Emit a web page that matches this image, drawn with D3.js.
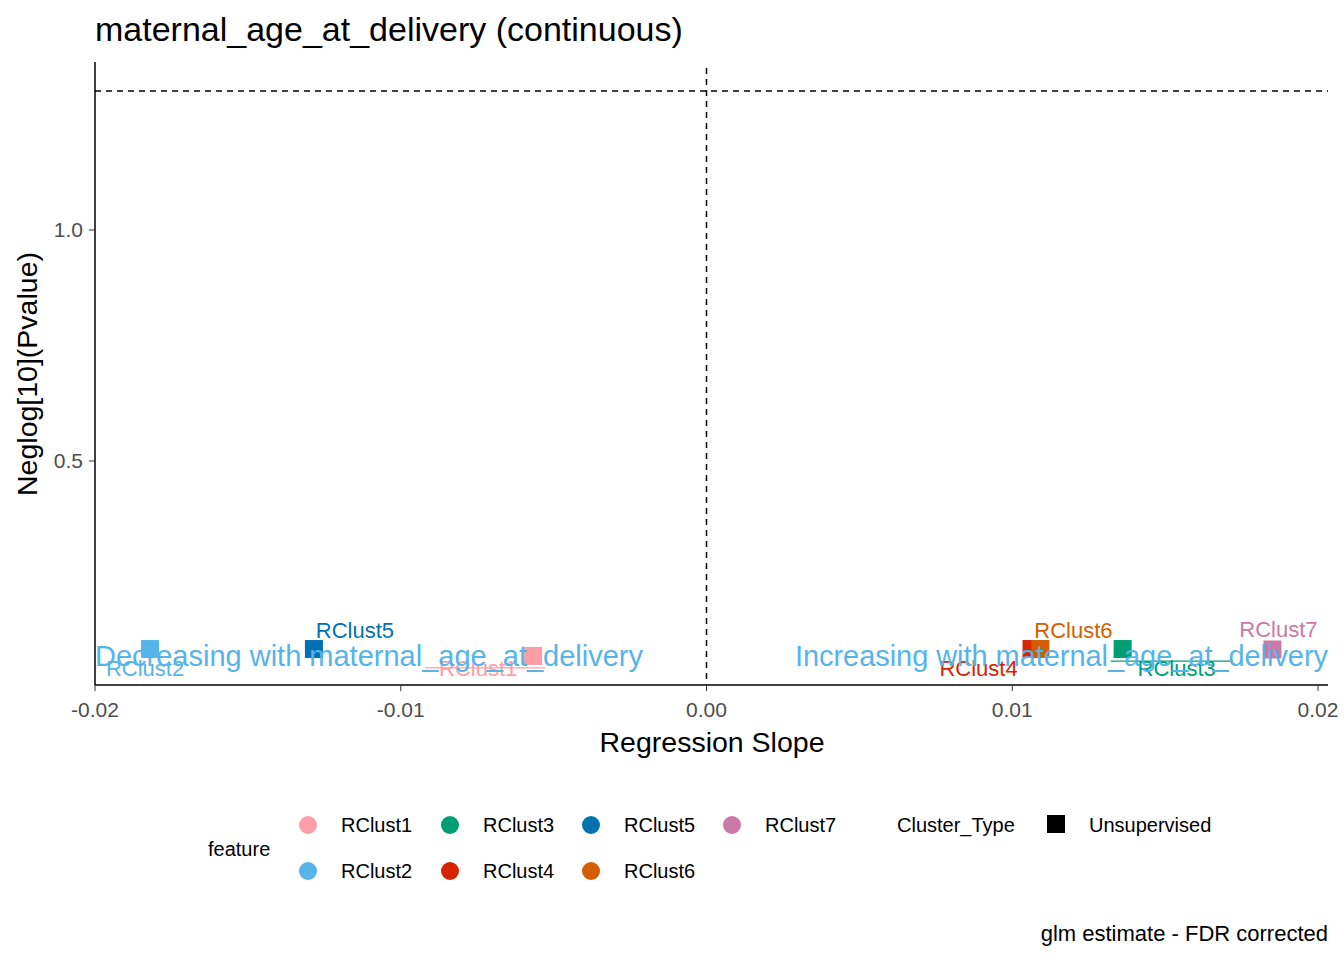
<!DOCTYPE html>
<html><head><meta charset="utf-8">
<script src="https://cdn.jsdelivr.net/npm/d3@7"></script>
<style>body{margin:0;background:#fff}text{font-family:Arial,"Liberation Sans",sans-serif}</style>
</head><body><svg id="c" width="1344" height="960"></svg>
<script>
const features = ["RClust1","RClust2","RClust3","RClust4","RClust5","RClust6","RClust7"];
const slopes = [-0.00567,-0.0182,0.01361,0.01063,-0.01284,0.01092,0.01851];
const negLogP = [0.078,0.093,0.093,0.093,0.093,0.093,0.092];
const colors = ["#FF9DA7","#56B4E9","#009E73","#D62300","#0072B2","#D55E00","#CC79A7"];
const xTicks = [-0.02,-0.01,0,0.01,0.02];
const yTicks = [0.5,1.0];
const labelOff = [[-55,13],[-5,20],[54,20],[-53,20],[41,-18],[33,-18],[6,-19]];
const segs = {0:[-108,12],2:[-12,110]};

const svg = d3.select("#c");
const x = d3.scaleLinear().domain([-0.02,0.02]).range([95,1318]);
const y = d3.scaleLinear().domain([0,1]).range([692,230]);
const L=95,R=1328,T=62,B=685;
const g = svg.append("g");
g.append("line").attr("x1",L).attr("x2",L).attr("y1",T).attr("y2",B).attr("stroke","#000").attr("stroke-width",1.5);
g.append("line").attr("x1",L).attr("x2",R).attr("y1",B).attr("y2",B).attr("stroke","#000").attr("stroke-width",1.5);
xTicks.forEach(t=>{
  g.append("line").attr("x1",x(t)).attr("x2",x(t)).attr("y1",B).attr("y2",B+6).attr("stroke","#333");
  g.append("text").attr("x",x(t)).attr("y",B+32).attr("text-anchor","middle").attr("font-size",21).attr("fill","#4d4d4d").text(t===0?"0.00":d3.format(".2f")(t).replace("−","-"));
});
yTicks.forEach(t=>{
  g.append("line").attr("x1",L-6).attr("x2",L).attr("y1",y(t)).attr("y2",y(t)).attr("stroke","#333");
  g.append("text").attr("x",L-12).attr("y",y(t)+7).attr("text-anchor","end").attr("font-size",21).attr("fill","#4d4d4d").text(t.toFixed(1));
});
g.append("line").attr("x1",L).attr("x2",R).attr("y1",y(-Math.log10(0.05))).attr("y2",y(-Math.log10(0.05))).attr("stroke","#000").attr("stroke-width",1.5).attr("stroke-dasharray","6,5");
g.append("line").attr("x1",x(0)).attr("x2",x(0)).attr("y1",68).attr("y2",B).attr("stroke","#000").attr("stroke-width",1.5).attr("stroke-dasharray","6,5");

features.forEach((f,i)=>{
  g.append("rect").attr("x",x(slopes[i])-9).attr("y",y(negLogP[i])-9).attr("width",18).attr("height",18).attr("fill",colors[i]);
});
features.forEach((f,i)=>{
  const px=x(slopes[i]), py=y(negLogP[i]);
  if(segs[i]) g.append("line").attr("x1",px+segs[i][0]).attr("x2",px+segs[i][1]).attr("y1",py+12).attr("y2",py+12).attr("stroke",colors[i]).attr("stroke-width",1.3);
  g.append("text").attr("x",px+labelOff[i][0]).attr("y",py+labelOff[i][1]+7).attr("text-anchor","middle").attr("font-size",22).attr("fill",colors[i]).text(f);
});
g.append("text").attr("x",95).attr("y",666).attr("font-size",29).attr("textLength",548).attr("fill","#56B4E9").text("Decreasing with maternal_age_at_delivery");
g.append("text").attr("x",795).attr("y",666).attr("font-size",29).attr("textLength",533).attr("fill","#56B4E9").text("Increasing with maternal_age_at_delivery");

svg.append("text").attr("x",95).attr("y",41).attr("font-size",34).text("maternal_age_at_delivery (continuous)");
svg.append("text").attr("x",712).attr("y",752).attr("text-anchor","middle").attr("font-size",28.5).text("Regression Slope");
svg.append("text").attr("transform","translate(37,374) rotate(-90)").attr("text-anchor","middle").attr("font-size",28.5).text("Neglog[10](Pvalue)");

svg.append("text").attr("x",208).attr("y",856).attr("font-size",20).text("feature");
const lx=[308,450,591,732];
features.forEach((f,i)=>{
  const col=Math.floor(i/2), row=i%2;
  const cx=lx[col], cy=825+row*46;
  svg.append("circle").attr("cx",cx).attr("cy",cy).attr("r",9).attr("fill",colors[i]);
  svg.append("text").attr("x",cx+33).attr("y",cy+7).attr("font-size",20).text(f);
});
svg.append("text").attr("x",897).attr("y",832).attr("font-size",20).text("Cluster_Type");
svg.append("rect").attr("x",1047).attr("y",815).attr("width",18).attr("height",18).attr("fill","#000");
svg.append("text").attr("x",1089).attr("y",832).attr("font-size",20).text("Unsupervised");
svg.append("text").attr("x",1328).attr("y",941).attr("text-anchor","end").attr("font-size",22).text("glm estimate - FDR corrected");
</script></body></html>
